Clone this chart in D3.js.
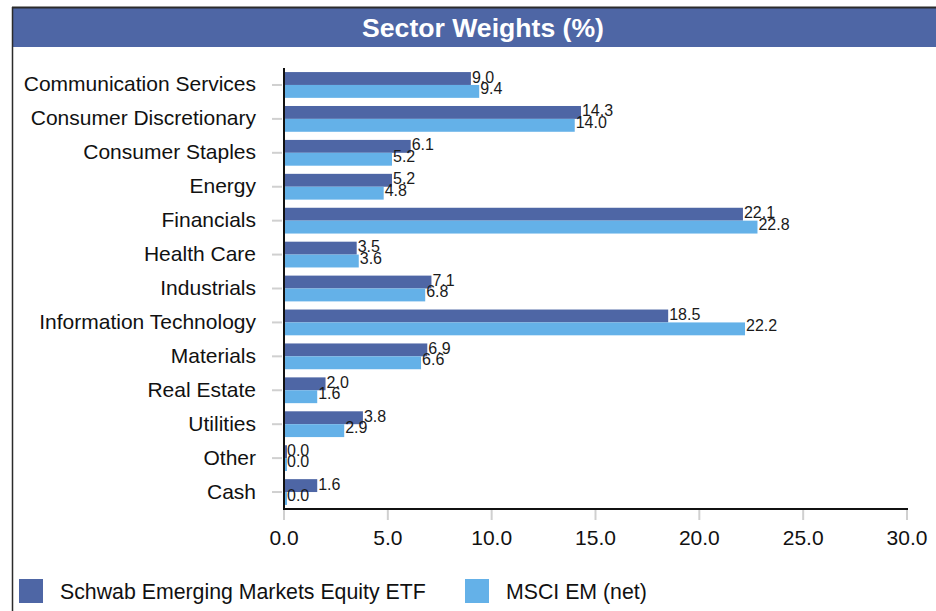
<!DOCTYPE html>
<html>
<head>
<meta charset="utf-8">
<script src="https://cdn.jsdelivr.net/npm/d3@7"></script>
<style>
  html, body { margin: 0; padding: 0; background: #fff; }
  svg { display: block; font-family: "Liberation Sans", Arial, sans-serif; }
</style>
</head>
<body>
<svg id="chart" width="936" height="611"></svg>
<script>
// Sector weights, fund vs. benchmark
const sectors = [
  "Communication Services", "Consumer Discretionary", "Consumer Staples", "Energy",
  "Financials", "Health Care", "Industrials", "Information Technology",
  "Materials", "Real Estate", "Utilities", "Other", "Cash"
];
const fundWeights  = [9.0, 14.3, 6.1, 5.2, 22.1, 3.5, 7.1, 18.5, 6.9, 2.0, 3.8, 0.0, 1.6];
const indexWeights = [9.4, 14.0, 5.2, 4.8, 22.8, 3.6, 6.8, 22.2, 6.6, 1.6, 2.9, 0.0, 0.0];
const seriesNames  = ["Schwab Emerging Markets Equity ETF", "MSCI EM (net)"];
const xTicks = [0, 5, 10, 15, 20, 25, 30];
const titleText = "Sector Weights (%)";

const colors = ["#4e66a5", "#64b1e8"];

const svg = d3.select("#chart");
const W = 936, H = 611;

// frame and title banner
svg.append("rect").attr("x", 13).attr("y", 8).attr("width", W - 13).attr("height", 39)
  .attr("fill", colors[0]);
svg.append("line").attr("x1", 12).attr("x2", W).attr("y1", 7.5).attr("y2", 7.5)
  .attr("stroke", "#2b2b2b").attr("stroke-width", 2);
svg.append("line").attr("x1", 12.5).attr("x2", 12.5).attr("y1", 7).attr("y2", H)
  .attr("stroke", "#2b2b2b").attr("stroke-width", 1.5);
svg.append("text").attr("x", 483).attr("y", 37)
  .attr("text-anchor", "middle").attr("fill", "#fff")
  .attr("font-weight", "bold").attr("font-size", 26.6)
  .text(titleText);

// plot area
const plotLeft = 284, plotRight = 907, plotTop = 68, plotBottom = 509;

const x = d3.scaleLinear().domain([0, 30]).range([plotLeft, plotRight]);
const y = d3.scaleBand().domain(sectors).range([plotTop, plotBottom])
  .paddingInner(0.24).paddingOuter(0.12);
const sub = d3.scaleBand().domain([0, 1]).range([0, y.bandwidth()]);

const rows = sectors.map((s, i) => ({ sector: s, values: [fundWeights[i], indexWeights[i]] }));

const g = svg.append("g");

// bars
const groups = g.selectAll("g.row").data(rows).join("g")
  .attr("class", "row")
  .attr("transform", d => `translate(0,${y(d.sector)})`);

groups.selectAll("rect").data(d => d.values.map((v, k) => ({ v, k }))).join("rect")
  .attr("x", x(0))
  .attr("y", d => sub(d.k))
  .attr("height", sub.bandwidth())
  .attr("width", d => Math.max(x(d.v) - x(0), 3))
  .attr("fill", d => colors[d.k]);

// value labels
groups.selectAll("text").data(d => d.values.map((v, k) => ({ v, k }))).join("text")
  .attr("x", d => Math.max(x(d.v), x(0) + 2) + 1)
  .attr("y", d => sub(d.k) + sub.bandwidth() / 2 + (d.k === 0 ? -1.5 : -3))
  .attr("dominant-baseline", "central")
  .attr("font-size", 16)
  .attr("fill", "#1a1a1a")
  .text(d => d.v.toFixed(1));

// category axis
const yAxis = svg.append("g");
yAxis.selectAll("line.tick").data(sectors).join("line")
  .attr("x1", plotLeft - 12).attr("x2", plotLeft - 2)
  .attr("y1", d => y(d) + y.bandwidth() / 2).attr("y2", d => y(d) + y.bandwidth() / 2)
  .attr("stroke", "#d0d0d0").attr("stroke-width", 2);
yAxis.selectAll("text").data(sectors).join("text")
  .attr("x", 256)
  .attr("y", d => y(d) + y.bandwidth() / 2 - 1)
  .attr("dominant-baseline", "central")
  .attr("text-anchor", "end")
  .attr("font-size", 21)
  .attr("fill", "#111")
  .text(d => d);

// value axis
const xAxis = svg.append("g");
xAxis.selectAll("line").data(xTicks).join("line")
  .attr("x1", d => x(d)).attr("x2", d => x(d))
  .attr("y1", plotBottom).attr("y2", plotBottom + 11)
  .attr("stroke", "#d0d0d0").attr("stroke-width", 2);
xAxis.selectAll("text").data(xTicks).join("text")
  .attr("x", d => x(d)).attr("y", 545)
  .attr("text-anchor", "middle")
  .attr("font-size", 21)
  .attr("fill", "#111")
  .text(d => d.toFixed(1));

// axis lines
svg.append("line").attr("x1", plotLeft).attr("x2", plotLeft).attr("y1", plotTop).attr("y2", plotBottom + 1)
  .attr("stroke", "#111").attr("stroke-width", 2);
svg.append("line").attr("x1", plotLeft - 1).attr("x2", plotRight + 1).attr("y1", plotBottom).attr("y2", plotBottom)
  .attr("stroke", "#111").attr("stroke-width", 2);

// legend
const legendX = [19, 465];
const legend = svg.append("g");
const items = legend.selectAll("g").data(seriesNames).join("g")
  .attr("transform", (d, i) => `translate(${legendX[i]},579)`);
items.append("rect").attr("width", 24).attr("height", 24)
  .attr("fill", (d, i) => colors[i]);
items.append("text").attr("x", 41).attr("y", 12.5)
  .attr("dominant-baseline", "central")
  .attr("font-size", 21.3).attr("fill", "#111")
  .text(d => d);
</script>
</body>
</html>
